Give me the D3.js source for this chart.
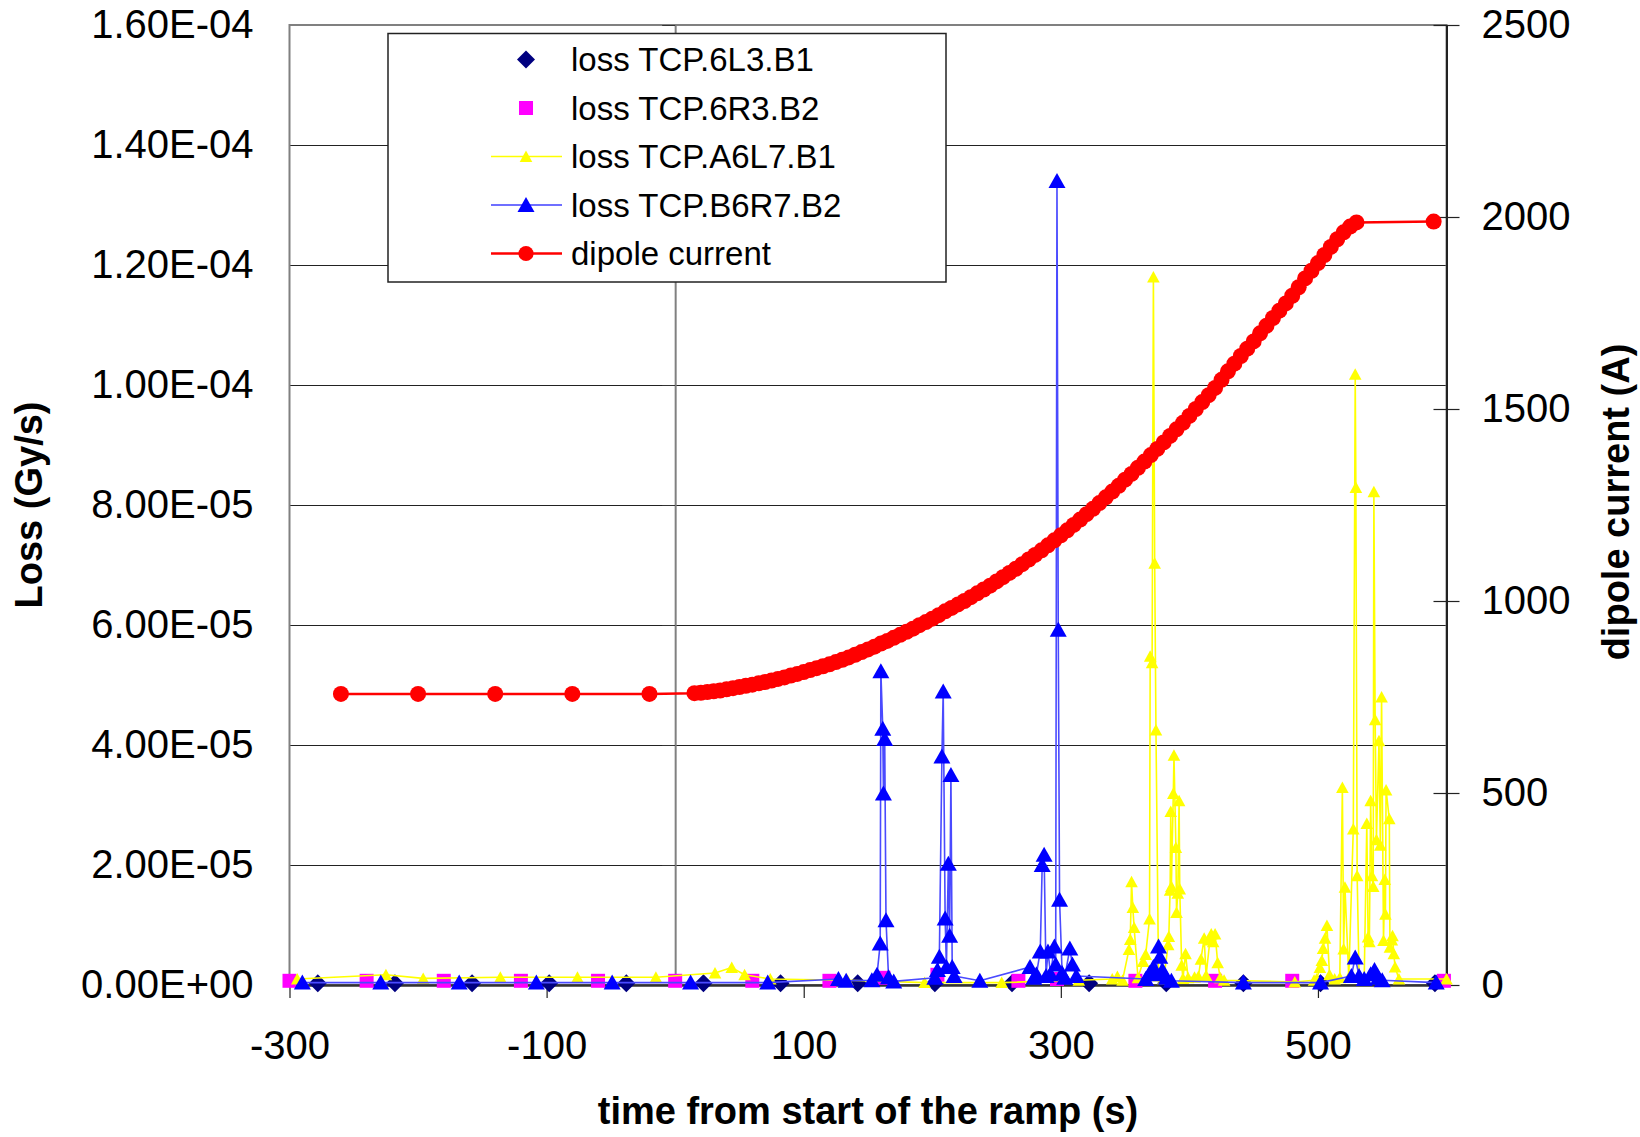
<!DOCTYPE html>
<html><head><meta charset="utf-8">
<script src="https://cdn.jsdelivr.net/npm/d3@7"></script>
<style>body{margin:0;background:#fff}svg{display:block;font-family:"Liberation Sans",Arial,Helvetica,sans-serif}</style>
</head><body><svg id="c" width="1640" height="1137"></svg>
<script>
// ---------- data ----------
const timeTicks = [-300, -100, 100, 300, 500];
const lossTicks = [0, 2e-5, 4e-5, 6e-5, 8e-5, 1e-4, 1.2e-4, 1.4e-4, 1.6e-4];
const currentTicks = [0, 500, 1000, 1500, 2000, 2500];
const seriesNames = ["loss TCP.6L3.B1", "loss TCP.6R3.B2", "loss TCP.A6L7.B1", "loss TCP.B6R7.B2", "dipole current"];

const lossTCP6L3B1 = [[-278,3e-7],[-218,3e-7],[-158,3e-7],[-98,3e-7],[-38,3e-7],[22,3e-7],[82,3e-7],[142,3e-7],[202,3e-7],[262,3e-7],[322,3e-7],[382,3e-7],[442,3e-7],[502,3e-7],[591,3e-7]];

const lossTCP6R3B2 = [[-300,7e-7],[-240,7e-7],[-180,7e-7],[-120,7e-7],[-60,7e-7],[0,7e-7],[60,7e-7],[120,7e-7],[162,1.2e-6],[204,1.7e-6],[267,7e-7],[297,1e-6],[358,7e-7],[420,7e-7],[480,7e-7],[598,7e-7]];

const lossTCPA6L7B1 = [[-294,1.0e-6],[-225,1.7e-6],[-196,1.1e-6],[-136,1.3e-6],[-76,1.3e-6],[-15,1.3e-6],[31,2.0e-6],[44,2.9e-6],[54,1.7e-6],[74,1.0e-6],[134,8e-7],[194,4e-7],[254,4e-7],[314,8e-7],
[340,1.0e-6],[344,1.4e-6],[348,8e-7],[353,5.9e-6],[354,7.6e-6],[355,1.72e-5],[356,1.29e-5],[357,9.6e-6],[360,1.2e-6],[364,3.9e-6],[366,5.1e-6],[369,1.1e-5],[369.5,5.48e-5],[371,5.37e-5],[372,1.18e-4],[373,7.03e-5],[374,4.25e-5],[376,1.5e-6],[380,1.0e-6],[383.5,6.7e-6],[384,8.1e-6],[385,1.58e-5],[385.5,2.89e-5],[386,1.64e-5],[387.5,3.19e-5],[388,3.83e-5],[389.5,2.29e-5],[390,1.21e-5],[391,1.53e-5],[392,3.07e-5],[392.5,1.6e-5],[394,3.3e-6],[395,1.1e-6],[397,5.2e-6],[399,1.2e-6],[404,1.3e-6],[407,1.4e-6],[409,4.3e-6],[411.5,7.8e-6],[413,1.6e-6],[416,7.5e-6],[417,8.5e-6],[418.5,7.2e-6],[420,8.5e-6],[422,3.7e-6],[424,1.2e-6],[427,8e-7],
[482,5e-7],[497,8e-7],[499,1.0e-6],[501.5,2.9e-6],[503,4.1e-6],[504,6.1e-6],[505.5,7.8e-6],[507,9.9e-6],[509,1.7e-6],[513,1.0e-6],[517,1.2e-6],[519,3.29e-5],[520,6e-6],[521,1.63e-5],[524,1.3e-6],[527.5,2.6e-5],[529,1.018e-4],[529.5,8.29e-5],[530.5,1.82e-5],[532,1.5e-6],[536,1.2e-6],[538,2.69e-5],[539,8e-6],[540,7.2e-6],[541,3.07e-5],[542,1.82e-5],[543,1.64e-5],[543.5,8.22e-5],[544.5,4.42e-5],[545.5,2.42e-5],[547.5,4.07e-5],[548.5,2.33e-5],[549.5,4.8e-5],[551,7.4e-6],[552,1.76e-5],[552.5,1.18e-5],[553,3.25e-5],[555.5,2.77e-5],[556,6.3e-6],[557.5,7.5e-6],[558,8.2e-6],[559,5.2e-6],[560,3e-6],[563,1.0e-6],[600,1.0e-6]];

const lossTCPB6R7B2 = [[-290,4e-7],[-229,4e-7],[-168,4e-7],[-108,4e-7],[-49,4e-7],[12,4e-7],[72,4e-7],[127,1.0e-6],[133,7e-7],[153,8e-7],[157,1.7e-6],[159.5,6.9e-6],[160,5.23e-5],[161.5,4.27e-5],[162,3.19e-5],[163,4.1e-5],[164,1.08e-5],[166,1.3e-6],[170,6e-7],
[202,1.2e-6],[204,2.5e-6],[205.5,4.7e-6],[207.5,3.81e-5],[208.5,4.89e-5],[210,1.11e-5],[211,3e-6],[212.5,2.02e-5],[213.5,8.2e-6],[214.5,3.5e-5],[215.5,3e-6],[217,1.5e-6],[237,7e-7],
[276,3e-6],[279,1.2e-6],[281,1.8e-6],[284,5.6e-6],[285.5,2.0e-5],[287,2.17e-5],[288.5,1.5e-6],[290,5.6e-6],[292,1.8e-6],[295,6.4e-6],[296,3.4e-6],[297,1.34e-4],[298,5.92e-5],[299,1.42e-5],[301,2e-6],[303,1.2e-6],[307,6.1e-6],[309,3.4e-6],[312,1.5e-6],
[366,1.0e-6],[369,2.0e-6],[372,3.0e-6],[374,1.8e-6],[376,6.4e-6],[377,4.7e-6],[379,2.5e-6],[382,1.2e-6],[386,7e-7],
[442,4e-7],[502,4e-7],[526,1.5e-6],[529,4.6e-6],[532,1.5e-6],[536,1.0e-6],[541,1.8e-6],[544,2.5e-6],[547,1.2e-6],[550,8e-7],[592,4e-7]];

const dipoleCurrent = [[-260,758],[-200,758],[-140,758],[-80,758],[-20,758],
[15,760],[20,761],[25,763],[30,765],[35,767],[40,770],[45,773],[50,776],[55,779],[60,782],[65,786],[70,789],[75,793],[80,797],[85,801],[90,806],[95,810],[100,815],[105,820],[110,825],[115,830],[120,835],[125,841],[130,847],[135,853],[140,860],[145,867],[150,874],[155,881],[160,889],[165,896],[170,904],[175,912],[180,920],[185,928],[190,937],[195,945],[200,954],[205,963],[210,973],[215,982],[220,991],[225,1000],[230,1010],[235,1020],[240,1030],[245,1040],[250,1051],[255,1062],[260,1073],[265,1084],[270,1096],[275,1108],[280,1120],[285,1132],[290,1145],[295,1158],[300,1171],[305,1184],[310,1198],[315,1212],[320,1226],[325,1240],[330,1255],[335,1270],[340,1285],[345,1300],[350,1316],[355,1331],[360,1347],[365,1363],[370,1380],[375,1396],[380,1413],[385,1430],[390,1447],[395,1464],[400,1482],[405,1500],[410,1518],[415,1536],[420,1555],[425,1576],[430,1598],[435,1618],[440,1638],[445,1657],[450,1676],[455,1697],[460,1717],[465,1737],[470,1756],[475,1775],[480,1795],[485,1817],[490,1840],[495,1860],[500,1880],[505,1901],[510,1922],[515,1942],[520,1960],[525,1975],[530,1986],[590,1988]];

// ---------- chart ----------
const svg = d3.select("#c");
const X0 = 289.5, X1 = 1446.5, Y0 = 985, Y1 = 25;
const x = d3.scaleLinear().domain([-300, 600]).range([X0, X1]);
const yL = d3.scaleLinear().domain([0, 1.6e-4]).range([Y0, Y1]);
const yR = d3.scaleLinear().domain([0, 2500]).range([Y0, Y1]);
const FONT = '"Liberation Sans",Arial,sans-serif';

function sci(v) {
  if (v === 0) return "0.00E+00";
  let e = Math.floor(Math.log10(v) + 1e-9);
  let m = v / Math.pow(10, e);
  return m.toFixed(2) + "E" + (e < 0 ? "-" : "+") + String(Math.abs(e)).padStart(2, "0");
}
const plain = d => String(d);

// gridlines
svg.append("g").selectAll("line")
  .data(lossTicks.filter(d => d > 0 && d < 1.6e-4)).join("line")
  .attr("x1", X0).attr("x2", X1)
  .attr("y1", d => Math.round(yL(d))).attr("y2", d => Math.round(yL(d)))
  .attr("stroke", "#222").attr("stroke-width", 1).attr("shape-rendering", "crispEdges");

// plot border
svg.append("rect").attr("x", X0).attr("y", Y1).attr("width", X1 - X0).attr("height", Y0 - Y1)
  .attr("fill", "none").attr("stroke", "#808080").attr("stroke-width", 2);

// value axis line at time 0 with ticks
const gAx0 = svg.append("g").attr("transform", `translate(${x(0)},0)`)
  .call(d3.axisLeft(yL).tickValues(lossTicks).tickSize(13).tickSizeOuter(0).tickFormat(""));
gAx0.select(".domain").attr("stroke", "#808080").attr("stroke-width", 2);
gAx0.selectAll(".tick line").attr("stroke", "#333");

// left labels
const gL = svg.append("g").attr("transform", `translate(${X0},0)`)
  .call(d3.axisLeft(yL).tickValues(lossTicks).tickSize(0).tickPadding(36).tickFormat(sci));
gL.select(".domain").remove();
gL.selectAll("text").attr("font-size", 40).attr("fill", "#000").attr("font-family", FONT);

// x axis
const gX = svg.append("g").attr("transform", `translate(0,${Y0})`)
  .call(d3.axisBottom(x).tickValues(timeTicks).tickSize(13).tickSizeOuter(0).tickPadding(33).tickFormat(plain));
gX.select(".domain").attr("stroke", "#333").attr("stroke-width", 2.5);
gX.selectAll(".tick line").attr("stroke", "#222").attr("stroke-width", 1.2);
gX.selectAll("text").attr("font-size", 40).attr("fill", "#000").attr("font-family", FONT);

// right axis
const gR = svg.append("g").attr("transform", `translate(${X1},0)`)
  .call(d3.axisRight(yR).tickValues(currentTicks).tickSize(13).tickSizeOuter(0).tickPadding(22).tickFormat(plain));
gR.select(".domain").attr("stroke", "#222").attr("stroke-width", 2);
gR.selectAll(".tick line").attr("x1", -13).attr("stroke", "#222").attr("stroke-width", 1.2);
gR.selectAll("text").attr("font-size", 40).attr("fill", "#000").attr("font-family", FONT);

// marker shapes
const shapes = {
  diamond: "M0,-9L9,0L0,9L-9,0Z",
  square: "M-7,-7H7V7H-7Z",
  triS: "M0,-6L6.3,5.5L-6.3,5.5Z",
  triL: "M0,-8L8.5,7L-8.5,7Z"
};
function markers(data, yS, path, fill) {
  svg.append("g").selectAll("path").data(data).join("path")
    .attr("d", path).attr("fill", fill)
    .attr("transform", d => `translate(${x(d[0])},${yS(d[1])})`);
}
function line(data, yS, color, w) {
  svg.append("path").datum(data)
    .attr("d", d3.line().x(d => x(d[0])).y(d => yS(d[1])))
    .attr("fill", "none").attr("stroke", color).attr("stroke-width", w).attr("stroke-linejoin", "round");
}

markers(lossTCP6L3B1, yL, shapes.diamond, "#000080");
markers(lossTCP6R3B2, yL, shapes.square, "#ff00ff");
line(lossTCPA6L7B1, yL, "#ffff00", 1.6);
markers(lossTCPA6L7B1, yL, shapes.triS, "#ffff00");
line(lossTCPB6R7B2, yL, "#4a4aff", 1.6);
markers(lossTCPB6R7B2, yL, shapes.triL, "#0000ff");
line(dipoleCurrent, yR, "#ff0000", 2.5);
svg.append("g").selectAll("circle").data(dipoleCurrent).join("circle")
  .attr("cx", d => x(d[0])).attr("cy", d => yR(d[1])).attr("r", 8).attr("fill", "#ff0000");

// axis titles
svg.append("text").attr("transform", "translate(42,505) rotate(-90)")
  .attr("text-anchor", "middle").attr("font-size", 38).attr("font-weight", "bold").text("Loss (Gy/s)");
svg.append("text").attr("transform", "translate(1629,502) rotate(-90)")
  .attr("text-anchor", "middle").attr("font-size", 38).attr("font-weight", "bold").text("dipole current (A)");
svg.append("text").attr("x", (X0 + X1) / 2).attr("y", 1124)
  .attr("text-anchor", "middle").attr("font-size", 38).attr("font-weight", "bold").text("time from start of the ramp (s)");

// legend
const lg = svg.append("g");
lg.append("rect").attr("x", 388).attr("y", 33.5).attr("width", 558).attr("height", 248.5)
  .attr("fill", "#fff").attr("stroke", "#222").attr("stroke-width", 1.5);
const legendItems = [
  {shape: shapes.diamond, fill: "#000080", line: null},
  {shape: shapes.square, fill: "#ff00ff", line: null},
  {shape: shapes.triS, fill: "#ffff00", line: "#ffff00", lw: 1.6},
  {shape: shapes.triL, fill: "#0000ff", line: "#6f6fff", lw: 2},
  {shape: "circle", fill: "#ff0000", line: "#ff0000", lw: 2.5}
];
legendItems.forEach((it, i) => {
  const cy = 59.5 + i * 48.5;
  if (it.line) lg.append("line").attr("x1", 491).attr("x2", 562).attr("y1", cy).attr("y2", cy)
    .attr("stroke", it.line).attr("stroke-width", it.lw);
  if (it.shape === "circle") lg.append("circle").attr("cx", 526).attr("cy", cy).attr("r", 7.6).attr("fill", it.fill);
  else lg.append("path").attr("d", it.shape).attr("fill", it.fill).attr("transform", `translate(526,${cy})`);
  lg.append("text").attr("x", 571).attr("y", cy + 11.5).attr("font-size", 33).attr("fill", "#000").text(seriesNames[i]);
});
</script></body></html>
